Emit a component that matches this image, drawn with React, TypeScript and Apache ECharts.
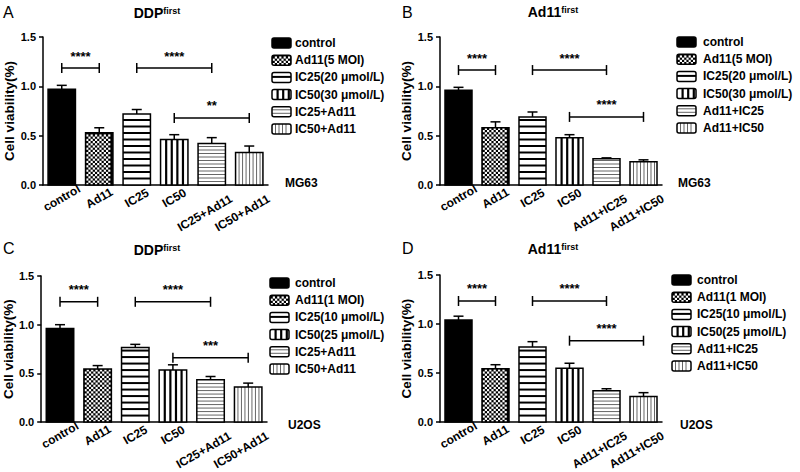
import React, { useEffect, useRef } from 'react';
import * as echarts from 'echarts';

const FONT = '"Liberation Sans", Arial, Helvetica, sans-serif';

// ---------- data ----------
const catsDDP = ['control', 'Ad11', 'IC25', 'IC50', 'IC25+Ad11', 'IC50+Ad11'];
const catsAd11 = ['control', 'Ad11', 'IC25', 'IC50', 'Ad11+IC25', 'Ad11+IC50'];

const meansA = [0.97, 0.53, 0.72, 0.46, 0.42, 0.33];
const errA = [0.04, 0.05, 0.045, 0.05, 0.06, 0.065];
const meansB = [0.96, 0.58, 0.69, 0.48, 0.265, 0.235];
const errB = [0.03, 0.06, 0.05, 0.03, 0.01, 0.02];
const meansC = [0.96, 0.545, 0.765, 0.535, 0.435, 0.36];
const errC = [0.04, 0.035, 0.033, 0.053, 0.033, 0.04];
const meansD = [1.04, 0.545, 0.765, 0.55, 0.32, 0.26];
const errD = [0.04, 0.04, 0.055, 0.05, 0.02, 0.04];

// [fromIndex, toIndex, yValue, label]
const sigA: [number, number, number, string][] = [[0, 1, 1.185, '****'], [2, 4, 1.185, '****'], [3, 5, 0.68, '**']];
const sigB: [number, number, number, string][] = [[0, 1, 1.165, '****'], [2, 4, 1.165, '****'], [3, 5, 0.69, '****']];
const sigC: [number, number, number, string][] = [[0, 1, 1.235, '****'], [2, 4, 1.235, '****'], [3, 5, 0.66, '***']];
const sigD: [number, number, number, string][] = [[0, 1, 1.235, '****'], [2, 4, 1.235, '****'], [3, 5, 0.83, '****']];

const legendA = ['control', 'Ad11(5 MOI)', 'IC25(20 μmol/L)', 'IC50(30 μmol/L)', 'IC25+Ad11', 'IC50+Ad11'];
const legendB = ['control', 'Ad11(5 MOI)', 'IC25(20 μmol/L)', 'IC50(30 μmol/L)', 'Ad11+IC25', 'Ad11+IC50'];
const legendC = ['control', 'Ad11(1 MOI)', 'IC25(10 μmol/L)', 'IC50(25 μmol/L)', 'IC25+Ad11', 'IC50+Ad11'];
const legendD = ['control', 'Ad11(1 MOI)', 'IC25(10 μmol/L)', 'IC50(25 μmol/L)', 'Ad11+IC25', 'Ad11+IC50'];

const yTicks = [0, 0.5, 1.0, 1.5];
const patterns = ['solid', 'checker', 'hThick', 'vThick', 'hThin', 'vThin'];

// ---------- layout ----------
const panels = [
  { letter: 'A', title: 'DDP', cats: catsDDP, means: meansA, errs: errA, sig: sigA, legend: legendA, cell: 'MG63',
    grid: { left: 43, top: 37, width: 225, height: 148 }, nameGap: 24,
    letterPos: [3, 12], titlePos: [157, 13], legendPos: [272, 43, 295], cellPos: [285, 183] },
  { letter: 'B', title: 'Ad11', cats: catsAd11, means: meansB, errs: errB, sig: sigB, legend: legendB, cell: 'MG63',
    grid: { left: 440, top: 37, width: 222, height: 148 }, nameGap: 24,
    letterPos: [402, 12], titlePos: [553, 12], legendPos: [677, 42, 703], cellPos: [678, 183] },
  { letter: 'C', title: 'DDP', cats: catsDDP, means: meansC, errs: errC, sig: sigC, legend: legendC, cell: 'U2OS',
    grid: { left: 41, top: 276, width: 226, height: 149 }, nameGap: 22,
    letterPos: [3, 248], titlePos: [157, 250], legendPos: [270, 283, 295], cellPos: [288, 425] },
  { letter: 'D', title: 'Ad11', cats: catsAd11, means: meansD, errs: errD, sig: sigD, legend: legendD, cell: 'U2OS',
    grid: { left: 440, top: 275, width: 222, height: 150 }, nameGap: 24,
    letterPos: [402, 248], titlePos: [553, 249], legendPos: [672, 280, 697], cellPos: [680, 425] },
];

function patternEls(kind: string, x: number, y: number, w: number, h: number, r = 0, fine = false): any[] {
  const els: any[] = [];
  if (h <= 0) return els;
  els.push({ type: 'rect', shape: { x, y, width: w, height: h, r },
    style: { fill: kind === 'solid' || kind === 'checker' ? '#000' : '#fff' } });
  if (kind === 'checker') {
    const c = 2.2;
    const rows = Math.floor(h / c);
    for (let rr = 0; rr < rows; rr++) {
      const yy = y + h - (rr + 1) * c;
      for (let xx = x + (rr % 2) * c + 0.6; xx + c <= x + w - 0.4; xx += 2 * c) {
        els.push({ type: 'rect', shape: { x: xx, y: yy, width: c, height: c }, style: { fill: '#fff' } });
      }
    }
  } else if (kind === 'hThick' || kind === 'hThin') {
    const sp = kind === 'hThick' ? (fine ? 5.5 : 6.5) : 3.5;
    const lw = kind === 'hThick' ? 2 : 1;
    const col = kind === 'hThick' ? '#000' : '#666';
    for (let yy = y + h - sp; yy > y + 1.5; yy -= sp) {
      els.push({ type: 'line', shape: { x1: x, y1: yy, x2: x + w, y2: yy }, style: { stroke: col, lineWidth: lw } });
    }
  } else if (kind === 'vThick' || kind === 'vThin') {
    const sp = kind === 'vThick' ? 5.6 : 3.5;
    const lw = kind === 'vThick' ? 2.2 : 1;
    const col = kind === 'vThick' ? '#000' : '#666';
    for (let xx = x + sp; xx < x + w - 2; xx += sp) {
      els.push({ type: 'line', shape: { x1: xx, y1: y, x2: xx, y2: y + h }, style: { stroke: col, lineWidth: lw } });
    }
  }
  els.push({ type: 'rect', shape: { x, y, width: w, height: h, r }, style: { fill: 'none', stroke: '#000', lineWidth: 1.5 } });
  return els;
}

const labelFont = { fontWeight: 'bold' as const, fontSize: 12, fontFamily: FONT, color: '#000' };

function buildOption() {
  const grids: any[] = [];
  const xAxes: any[] = [];
  const yAxes: any[] = [];
  const series: any[] = [];
  const graphic: any[] = [];

  panels.forEach((p, k) => {
    grids.push({ ...p.grid, containLabel: false });
    xAxes.push({
      type: 'category', gridIndex: k, data: p.cats,
      axisLine: { lineStyle: { color: '#000', width: 1.5 } },
      axisTick: { alignWithLabel: true, length: 4, lineStyle: { color: '#000', width: 1.5 } },
      axisLabel: {
        interval: 0, rotate: 30, margin: 13, align: 'center', verticalAlign: 'middle', ...labelFont,
        formatter: (v: string) => (v.length > 7 ? `{long|${v}}` : `{n|${v}}`),
        rich: { n: { ...labelFont }, long: { ...labelFont, padding: [19, 27, 0, 0] } },
      },
      splitLine: { show: false },
    });
    yAxes.push({
      type: 'value', gridIndex: k, min: yTicks[0], max: yTicks[yTicks.length - 1], interval: 0.5,
      name: 'Cell viability(%)', nameLocation: 'middle', nameGap: p.nameGap, nameRotate: 90,
      nameTextStyle: { color: '#000', fontWeight: 'bold', fontSize: 13.5, fontFamily: FONT },
      axisLine: { show: true, lineStyle: { color: '#000', width: 1.5 } },
      axisTick: { show: true, length: 4, lineStyle: { color: '#000', width: 1.5 } },
      axisLabel: { color: '#000', fontWeight: 'bold', fontSize: 11, fontFamily: FONT, margin: 7,
        formatter: (v: number) => v.toFixed(1) },
      splitLine: { show: false },
    });

    series.push({
      type: 'custom', xAxisIndex: k, yAxisIndex: k,
      data: p.means.map((m, i) => [i, m, p.errs[i]]),
      encode: { x: 0, y: 1 },
      renderItem: (params: any, api: any) => {
        const i = api.value(0);
        const v = api.value(1);
        const e = api.value(2);
        const top = api.coord([i, v]);
        const base = api.coord([i, 0]);
        const et = api.coord([i, v + e]);
        const band = api.size([1, 0])[0];
        const w = band * 0.73;
        const x = top[0] - w / 2;
        const children = patternEls(patterns[i], x, top[1], w, base[1] - top[1]);
        children.push({ type: 'line', shape: { x1: top[0], y1: top[1], x2: top[0], y2: et[1] }, style: { stroke: '#000', lineWidth: 1.5 } });
        children.push({ type: 'line', shape: { x1: top[0] - 5, y1: et[1], x2: top[0] + 5, y2: et[1] }, style: { stroke: '#000', lineWidth: 1.5 } });
        return { type: 'group', children };
      },
      z: 2,
    });

    series.push({
      type: 'custom', xAxisIndex: k, yAxisIndex: k, clip: false,
      data: p.sig.map((s) => [s[0], s[1], s[2]]),
      encode: { x: [0, 1], y: 2 },
      renderItem: (params: any, api: any) => {
        const s = api.coord([api.value(0), api.value(2)]);
        const e = api.coord([api.value(1), api.value(2)]);
        const label = p.sig[params.dataIndex][3];
        const st = { stroke: '#000', lineWidth: 1.5 };
        return {
          type: 'group',
          children: [
            { type: 'line', shape: { x1: s[0], y1: s[1], x2: e[0], y2: e[1] }, style: st },
            { type: 'line', shape: { x1: s[0], y1: s[1] - 5, x2: s[0], y2: s[1] + 5 }, style: st },
            { type: 'line', shape: { x1: e[0], y1: e[1] - 5, x2: e[0], y2: e[1] + 5 }, style: st },
            { type: 'text', style: { text: label, x: (s[0] + e[0]) / 2, y: s[1] - 12, textAlign: 'center', textVerticalAlign: 'middle',
              fontSize: 13, fontWeight: 'bold', fontFamily: FONT, fill: '#000' } },
          ],
        };
      },
      z: 3,
    });

    // panel letter
    graphic.push({ type: 'text', style: { text: p.letter, x: p.letterPos[0], y: p.letterPos[1], textVerticalAlign: 'middle',
      fontSize: 16, fontFamily: FONT, fill: '#000' } });
    // title
    graphic.push({ type: 'text', style: {
      text: `{m|${p.title}}{s|first}`, x: p.titlePos[0], y: p.titlePos[1], textAlign: 'center', textVerticalAlign: 'middle',
      rich: {
        m: { fontSize: 14, fontWeight: 'bold', fontFamily: FONT, fill: '#000' },
        s: { fontSize: 9, fontWeight: 'bold', fontFamily: FONT, fill: '#000', verticalAlign: 'top' },
      } } });
    // legend
    const [lx, ly, tx] = p.legendPos;
    p.legend.forEach((name, i) => {
      const cy = ly + i * 17.2;
      graphic.push({ type: 'group', children: patternEls(patterns[i], lx, cy - 5, 19, 10, 2, true) });
      graphic.push({ type: 'text', style: { text: name, x: tx, y: cy, textVerticalAlign: 'middle',
        fontSize: 12, fontWeight: 'bold', fontFamily: FONT, fill: '#000' } });
    });
    // cell line
    graphic.push({ type: 'text', style: { text: p.cell, x: p.cellPos[0], y: p.cellPos[1], textVerticalAlign: 'middle',
      fontSize: 12, fontWeight: 'bold', fontFamily: FONT, fill: '#000' } });
  });

  return {
    animation: false,
    backgroundColor: '#fff',
    grid: grids,
    xAxis: xAxes,
    yAxis: yAxes,
    series,
    graphic,
  };
}

export default function App() {
  const ref = useRef<HTMLDivElement>(null);
  useEffect(() => {
    if (!ref.current) return;
    const chart = echarts.init(ref.current, undefined, { renderer: 'svg' });
    chart.setOption(buildOption() as any);
    return () => chart.dispose();
  }, []);
  return <div ref={ref} style={{ position: 'fixed', left: 0, top: 0, width: 800, height: 472, background: '#fff' }} />;
}
